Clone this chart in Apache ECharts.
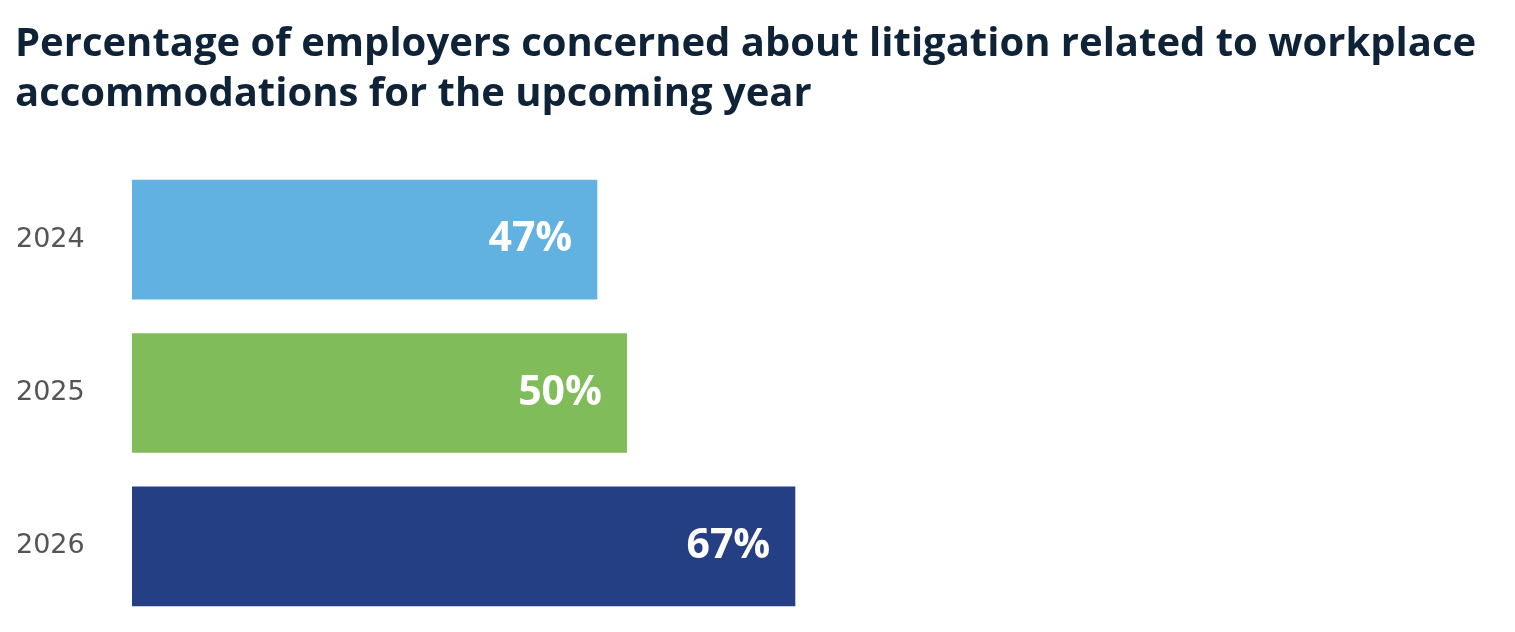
<!DOCTYPE html>
<html>
<head>
<meta charset="utf-8">
<script src="https://cdn.jsdelivr.net/npm/echarts@6/dist/echarts.min.js"></script>
<style>
  html, body { margin: 0; padding: 0; background: #fff; }
  #chart { width: 1515px; height: 632px; }
</style>
</head>
<body>
<div id="chart"></div>
<script>
// data
const years = ['2024', '2025', '2026'];
const shares = [47, 50, 67];
const barColors = ['#61b1e1', '#80bc5a', '#243f83'];

const chart = echarts.init(document.getElementById('chart'), null, { renderer: 'canvas' });

const option = {
  animation: false,
  title: {
    text: 'Percentage of employers concerned about litigation related to workplace\naccommodations for the upcoming year',
    left: 10,
    top: 15,
    textStyle: {
      fontFamily: 'Open Sans',
      fontWeight: 'bold',
      fontSize: 40,
      lineHeight: 50,
      color: '#0f2338'
    }
  },
  grid: {
    left: 132,
    right: 393,
    top: 163,
    bottom: 9
  },
  xAxis: {
    type: 'value',
    min: 0,
    max: 100,
    show: false
  },
  yAxis: {
    type: 'category',
    data: years,
    inverse: true,
    axisLine: { show: false },
    axisTick: { show: false },
    axisLabel: {
      margin: 116,
      align: 'left',
      fontFamily: 'DejaVu Sans',
      fontSize: 27,
      color: '#555555'
    }
  },
  series: [
    {
      type: 'bar',
      data: shares.map((v, i) => ({ value: v, itemStyle: { color: barColors[i] } })),
      barCategoryGap: '22%',
      label: {
        show: true,
        position: 'insideRight',
        distance: 25,
        formatter: '{c}%',
        fontFamily: 'Open Sans',
        fontWeight: 'bold',
        fontSize: 41,
        color: '#ffffff'
      }
    }
  ]
};

chart.setOption(option);
</script>
</body>
</html>
